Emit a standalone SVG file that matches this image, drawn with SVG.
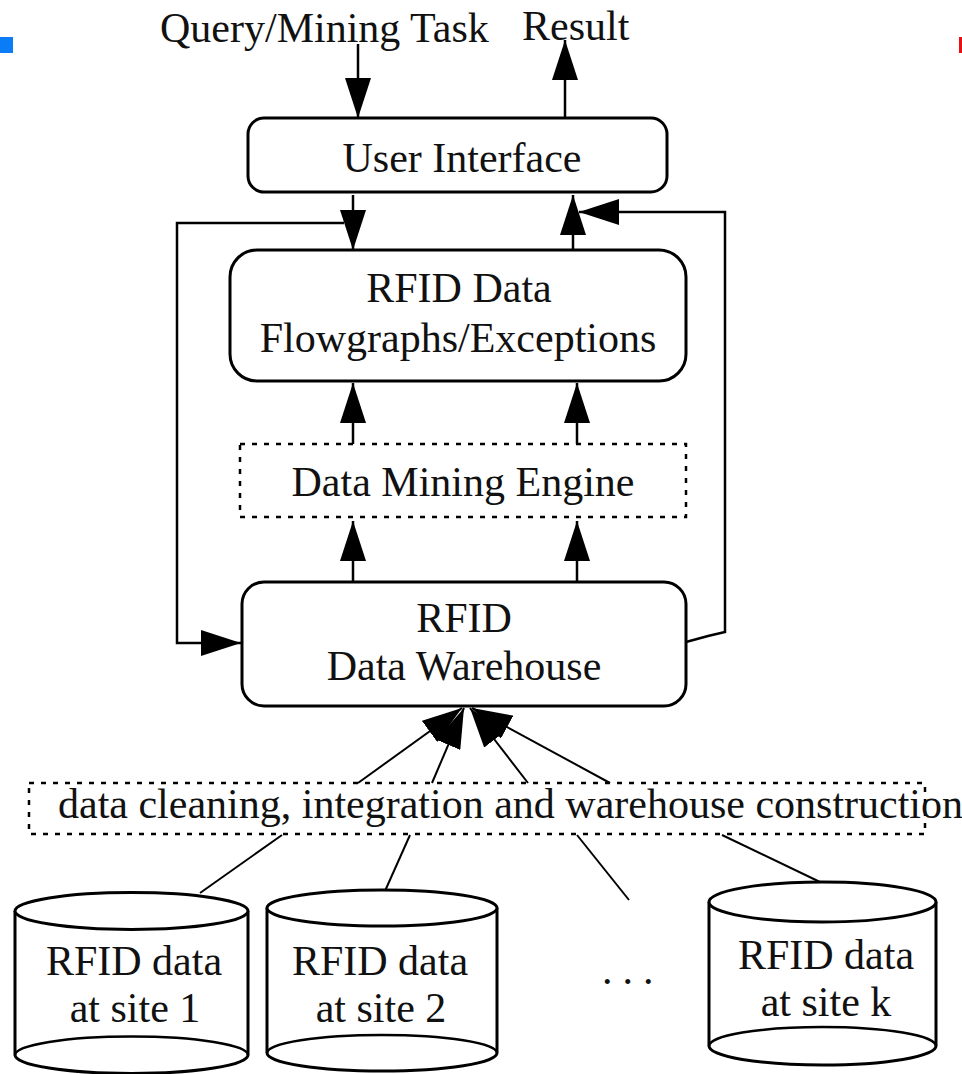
<svg xmlns="http://www.w3.org/2000/svg" width="962" height="1074" viewBox="0 0 962 1074">
<style>
text{font-family:"Liberation Serif","Times New Roman",serif;font-size:42px;fill:#111}
.c{text-anchor:middle}
.box{fill:#fff;stroke:#000;stroke-width:3}
.dash{fill:none;stroke:#000;stroke-width:2.5;stroke-dasharray:5 7}
.ln{fill:none;stroke:#000;stroke-width:2.5}
.dg{fill:none;stroke:#000;stroke-width:2}
.cyl{fill:#fff;stroke:#000;stroke-width:3}
</style>
<defs>
<marker id="ah" viewBox="0 0 40 26" markerWidth="40" markerHeight="26" markerUnits="userSpaceOnUse" refX="40" refY="13" orient="auto">
<path d="M0,0 L40,13 L0,26 z" fill="#000"/>
</marker>
</defs>
<rect width="962" height="1074" fill="#fff"/>
<rect x="0" y="37" width="13" height="16" fill="#0a7cf5"/>
<rect x="959" y="37" width="3" height="16" fill="#e81010"/>

<g id="labels-top">
<text x="160" y="42">Query/Mining Task</text>
<text x="522" y="40">Result</text>
</g>

<g id="connectors">
<line class="ln" x1="358" y1="44" x2="358" y2="118" marker-end="url(#ah)"/>
<line class="ln" x1="565" y1="118" x2="565" y2="40" marker-end="url(#ah)"/>
<line class="ln" x1="353" y1="195" x2="353" y2="250" marker-end="url(#ah)"/>
<line class="ln" x1="573" y1="250" x2="573" y2="195" marker-end="url(#ah)"/>
<polyline class="ln" points="686,642 708,636 725,632 725,212 579,212" marker-end="url(#ah)"/>
<polyline class="ln" points="344,223 177,223 177,643 241,643" marker-end="url(#ah)"/>
<line class="ln" x1="353" y1="444" x2="353" y2="383" marker-end="url(#ah)"/>
<line class="ln" x1="577" y1="444" x2="577" y2="383" marker-end="url(#ah)"/>
<line class="ln" x1="353" y1="582" x2="353" y2="521" marker-end="url(#ah)"/>
<line class="ln" x1="577" y1="582" x2="577" y2="521" marker-end="url(#ah)"/>
<line class="dg" x1="358" y1="783" x2="462" y2="708" marker-end="url(#ah)"/>
<line class="dg" x1="432" y1="783" x2="464" y2="708" marker-end="url(#ah)"/>
<line class="dg" x1="528" y1="783" x2="470" y2="708" marker-end="url(#ah)"/>
<line class="dg" x1="610" y1="783" x2="472" y2="708" marker-end="url(#ah)"/>
<line class="dg" x1="282" y1="835" x2="200" y2="893"/>
<line class="dg" x1="410" y1="835" x2="385" y2="891"/>
<line class="dg" x1="577" y1="835" x2="629" y2="900"/>
<line class="dg" x1="722" y1="835" x2="820" y2="882"/>
</g>

<g id="user-interface">
<rect class="box" x="248" y="118" width="419" height="74" rx="16"/>
<text class="c" x="462" y="172">User Interface</text>
</g>

<g id="flowgraphs">
<rect class="box" x="230" y="250" width="456" height="131" rx="27"/>
<text class="c" x="459" y="302">RFID Data</text>
<text class="c" x="458" y="352">Flowgraphs/Exceptions</text>
</g>

<g id="mining-engine">
<rect class="dash" x="240" y="444" width="446" height="73"/>
<text class="c" x="463" y="496">Data Mining Engine</text>
</g>

<g id="warehouse">
<rect class="box" x="242" y="582" width="444" height="124" rx="22"/>
<text class="c" x="464" y="632">RFID</text>
<text class="c" x="464" y="680">Data Warehouse</text>
</g>

<g id="cleaning">
<rect class="dash" x="29" y="783" width="896" height="51"/>
<text x="58" y="818">data cleaning, integration and warehouse construction</text>
</g>

<g id="site1">
<path class="cyl" d="M15,911 L15,1055 A116.5,18.5 0 0 0 248,1055 L248,911"/>
<ellipse class="cyl" cx="131.5" cy="911" rx="116.5" ry="18.5"/>
<path class="ln" d="M15,1055 A116.5,18.5 0 0 1 248,1055" stroke-width="3"/>
<text class="c" x="134" y="975">RFID data</text>
<text class="c" x="135" y="1022">at site 1</text>
</g>

<g id="site2">
<path class="cyl" d="M267,908 L267,1053 A115,18 0 0 0 497,1053 L497,908"/>
<ellipse class="cyl" cx="382" cy="908" rx="115" ry="18"/>
<path class="ln" d="M267,1053 A115,18 0 0 1 497,1053" stroke-width="3"/>
<text class="c" x="380" y="975">RFID data</text>
<text class="c" x="381" y="1022">at site 2</text>
</g>

<g id="ellipsis">
<text x="602" y="984" style="letter-spacing:10px">...</text>
</g>

<g id="sitek">
<path class="cyl" d="M709,902 L709,1046 A113.5,19 0 0 0 936,1046 L936,902"/>
<ellipse class="cyl" cx="822.5" cy="902" rx="113.5" ry="20"/>
<path class="ln" d="M709,1046 A113.5,19 0 0 1 936,1046" stroke-width="3"/>
<text class="c" x="826" y="969">RFID data</text>
<text class="c" x="826" y="1016">at site k</text>
</g>
</svg>
